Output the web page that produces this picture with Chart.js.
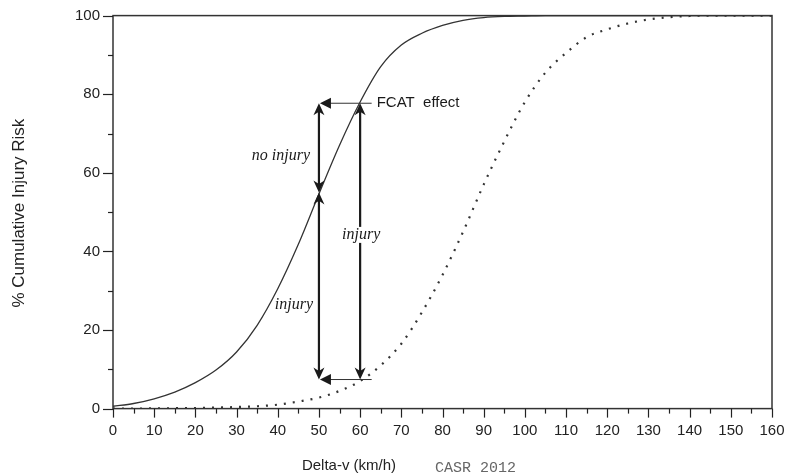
<!DOCTYPE html>
<html><head><meta charset="utf-8">
<script src="https://cdn.jsdelivr.net/npm/chart.js@4/dist/chart.umd.min.js"></script>
<style>html,body{margin:0;padding:0;background:#fff}#wrap{width:803px;height:476px}</style>
</head><body><div id="wrap"><canvas id="c" width="803" height="476"></canvas></div>
<script>
// ---- data ----
const speeds      = [0,5,10,15,20,25,30,35,40,45,50,55,60,65,70,75,80,85,90,95,100,105,110,115,120,125,130,135,140,145,150,155,160];
const riskSolid   = [0.6,1.3,2.5,4.2,6.6,9.8,14.4,21.2,30.5,41.8,54.6,67,78,87,92.5,95.5,97.5,98.8,99.5,99.8,99.9,100,100,100,100,100,100,100,100,100,100,100,100];
const riskDotted  = [0,0.02,0.05,0.1,0.15,0.25,0.4,0.6,1.0,1.8,2.8,4.5,7.0,11.0,16.5,24.5,34,45,57,68,78,85.5,90.5,94.5,96.5,98,99,99.6,99.9,100,100,100,100];
const xTickLabels = [0,10,20,30,40,50,60,70,80,90,100,110,120,130,140,150,160];
const yTickLabels = [0,20,40,60,80,100];
const arrowSpeeds = [50, 60];          // km/h of the two vertical arrows
const levelBottom = 7.4;               // % lower horizontal marker
const levelMeet   = 55;                // % solid curve at 50 km/h
const levelTop    = 77.7;              // % solid curve at 60 km/h
const lineEndSpeed = 62.8;             // end of FCAT horizontal markers
const labels = {fcat: 'FCAT  effect', noInjury: 'no injury', injury: 'injury', xTitle: 'Delta-v (km/h)', yTitle: '% Cumulative Injury Risk', source: 'CASR 2012'};

const solidPts  = speeds.map((s,i)=>({x:s,y:riskSolid[i]}));
const dottedPts = speeds.map((s,i)=>({x:s,y:riskDotted[i]}));

function head(ctx, x, y, dir, len, hw){
  ctx.beginPath();
  if(dir==='up'){ctx.moveTo(x,y);ctx.lineTo(x-hw,y+len);ctx.lineTo(x,y+len*0.7);ctx.lineTo(x+hw,y+len);}
  else if(dir==='down'){ctx.moveTo(x,y);ctx.lineTo(x-hw,y-len);ctx.lineTo(x,y-len*0.7);ctx.lineTo(x+hw,y-len);}
  else if(dir==='left'){ctx.moveTo(x,y);ctx.lineTo(x+len,y-hw);ctx.lineTo(x+len,y+hw);}
  ctx.closePath();ctx.fill();
}
function vArrow(ctx, x, y1, y2){ // y1 top pixel, y2 bottom pixel
  ctx.beginPath();ctx.moveTo(x,y1+5);ctx.lineTo(x,y2-5);ctx.stroke();
  head(ctx,x,y1,'up',12,5.5);
  head(ctx,x,y2,'down',12,5.5);
}

const deco = {
  id:'deco',
  afterDatasetsDraw(chart){
    const {ctx, chartArea:a, scales:{x, y}} = chart;
    ctx.save();
    // frame
    ctx.strokeStyle='#333'; ctx.lineWidth=1.5;
    ctx.strokeRect(a.left, a.top, a.right-a.left, a.bottom-a.top);
    // ticks
    ctx.lineWidth=1.2; ctx.strokeStyle='#222';
    for(let v=0; v<=100; v+=10){
      const py=Math.round(y.getPixelForValue(v))+0.5;
      const L = v%20===0?10:5;
      ctx.beginPath();ctx.moveTo(a.left-L,py);ctx.lineTo(a.left,py);ctx.stroke();
    }
    for(let v=0; v<=160; v+=5){
      const px=Math.round(x.getPixelForValue(v))+0.5;
      const L = v%10===0?9:5;
      ctx.beginPath();ctx.moveTo(px,a.bottom);ctx.lineTo(px,a.bottom+L);ctx.stroke();
    }
    // arrows
    ctx.strokeStyle='#1a1a1a'; ctx.fillStyle='#1a1a1a'; ctx.lineWidth=2.2;
    const x50=x.getPixelForValue(arrowSpeeds[0]), x60=x.getPixelForValue(arrowSpeeds[1]);
    const yb=y.getPixelForValue(levelBottom), ym=y.getPixelForValue(levelMeet), yt=y.getPixelForValue(levelTop);
    vArrow(ctx,x50,ym,yb);
    vArrow(ctx,x50,yt,ym);
    vArrow(ctx,x60,yt,yb);
    // horizontal markers
    const xe=x.getPixelForValue(lineEndSpeed);
    ctx.lineWidth=1; ctx.strokeStyle='#333';
    [yt,yb].forEach(py=>{
      ctx.beginPath();ctx.moveTo(x50+8,py);ctx.lineTo(xe,py);ctx.stroke();
      head(ctx,x50+1,py,'left',11,5.5);
    });
    // texts
    ctx.fillStyle='#1a1a1a';
    ctx.font='15px "Liberation Sans", Arial, sans-serif';
    ctx.textAlign='left'; ctx.textBaseline='middle';
    ctx.fillText(labels.fcat, xe+5, yt);
    ctx.font='italic 16px "Liberation Serif", serif';
    ctx.textAlign='center';
    ctx.fillText(labels.noInjury, x50-38, y.getPixelForValue(64.2));
    ctx.fillText(labels.injury, x50-25, y.getPixelForValue(26.3));
    // injury label on 60 km/h arrow with white backing
    const iy=y.getPixelForValue(44.2);
    const w=ctx.measureText(labels.injury).width;
    ctx.fillStyle='#fff'; ctx.fillRect(x60-w/2-1, iy-8, w+2, 16);
    ctx.fillStyle='#1a1a1a';
    ctx.fillText(labels.injury, x60+1, iy);
    // axis titles
    ctx.fillStyle='#222';
    ctx.font='15px "Liberation Sans", Arial, sans-serif';
    ctx.fillText(labels.xTitle, 349, 466);
    ctx.save();
    ctx.translate(19, (a.top+a.bottom)/2+1);
    ctx.rotate(-Math.PI/2);
    ctx.font='17px "Liberation Sans", Arial, sans-serif';
    ctx.fillText(labels.yTitle, 0, 0);
    ctx.restore();
    ctx.fillStyle='#666';
    ctx.font='15px "Liberation Mono", monospace';
    ctx.textAlign='left';
    ctx.fillText(labels.source, 435, 468);
    ctx.restore();
  }
};

new Chart(document.getElementById('c'), {
  type:'scatter',
  data:{datasets:[
    {data:solidPts, showLine:true, borderColor:'#333', borderWidth:1.3, pointRadius:0, cubicInterpolationMode:'monotone', fill:false},
    {data:dottedPts, showLine:true, borderColor:'#333', borderWidth:2.2, borderDash:[2,7], borderCapStyle:'butt', pointRadius:0, cubicInterpolationMode:'monotone', fill:false}
  ]},
  options:{
    responsive:false, animation:false, devicePixelRatio:1,
    layout:{padding:{left:0,right:31,top:15.6,bottom:0}},
    plugins:{legend:{display:false}, tooltip:{enabled:false}},
    scales:{
      x:{type:'linear', min:0, max:160,
        afterBuildTicks(s){ s.ticks = xTickLabels.map(v=>({value:v})); },
        afterFit(s){ s.height = 476-408.6; s.paddingLeft = 0; s.paddingRight = 0; },
        grid:{display:false, drawTicks:false}, border:{display:false},
        ticks:{autoSkip:false, maxRotation:0, padding:13, color:'#222', font:{family:'"Liberation Sans", Arial, sans-serif', size:15}}
      },
      y:{type:'linear', min:0, max:100,
        afterBuildTicks(s){ s.ticks = yTickLabels.map(v=>({value:v})); },
        afterFit(s){ s.width = 113; s.paddingTop = 0; s.paddingBottom = 0; },
        grid:{display:false, drawTicks:false}, border:{display:false},
        ticks:{padding:13, color:'#222', font:{family:'"Liberation Sans", Arial, sans-serif', size:15}}
      }
    }
  },
  plugins:[deco]
});
</script></body></html>
